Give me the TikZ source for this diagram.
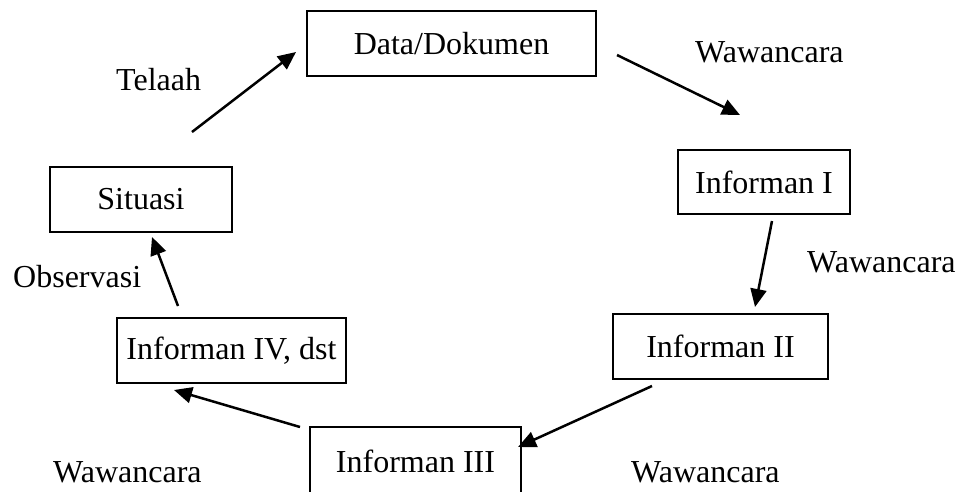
\documentclass[tikz,border=0pt]{standalone}
\usepackage{fontspec}
\setmainfont{Liberation Serif}
\usetikzlibrary{arrows.meta}
\begin{document}
\begin{tikzpicture}[x=1pt,y=-1pt,
  box/.style={draw,line width=2.5pt,inner sep=0pt,font=\fontsize{32}{37}\selectfont},
  lbl/.style={inner sep=0pt,font=\fontsize{32}{37}\selectfont},
  arr/.style={line width=2.5pt,-{Triangle[length=18pt,width=16pt]}}]
\clip (0,0) rectangle (967,491);
\useasboundingbox (0,0) rectangle (967,491);
\node[box,minimum width=289pt,minimum height=65pt] (data) at (451.5,43.5) {Data/Dokumen};
\node[box,minimum width=172pt,minimum height=64pt] (inf1) at (764,182) {Informan I};
\node[box,minimum width=215pt,minimum height=65pt] (inf2) at (720.5,346.5) {Informan II};
\node[box,minimum width=211pt,minimum height=68pt] (inf3) at (415.5,461) {Informan III};
\node[box,minimum width=229pt,minimum height=65pt] (inf4) at (231.5,350.5) {Informan IV, dst};
\node[box,minimum width=182pt,minimum height=65pt] (sit) at (141,199.5) {Situasi};
\coordinate (a1s) at (617,55);  \coordinate (a1e) at (740,115);
\coordinate (a2s) at (772,221); \coordinate (a2e) at (755,307);
\coordinate (a3s) at (652,386); \coordinate (a3e) at (518,447);
\coordinate (a4s) at (300,427); \coordinate (a4e) at (174,390);
\coordinate (a5s) at (178,306); \coordinate (a5e) at (152,237);
\coordinate (a6s) at (192,132); \coordinate (a6e) at (296,52);
\draw[arr] (a1s) -- (a1e);
\draw[arr] (a2s) -- (a2e);
\draw[arr] (a3s) -- (a3e);
\draw[arr] (a4s) -- (a4e);
\draw[arr] (a5s) -- (a5e);
\draw[arr] (a6s) -- (a6e);
\node[lbl,anchor=west] (l1) at (695,52) {Wawancara};
\node[lbl,anchor=west] (l2) at (807,262) {Wawancara};
\node[lbl,anchor=west] (l3) at (631,472) {Wawancara};
\node[lbl,anchor=west] (l4) at (53,472) {Wawancara};
\node[lbl,anchor=west] (l5) at (13,277) {Observasi};
\node[lbl,anchor=west] (l6) at (116,80) {Telaah};
\end{tikzpicture}
\end{document}
